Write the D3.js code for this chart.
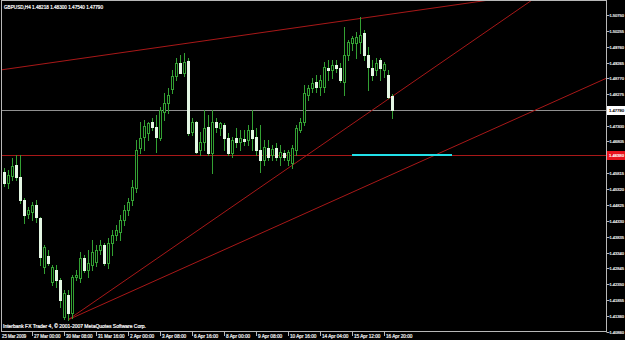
<!DOCTYPE html>
<html><head><meta charset="utf-8">
<script src="https://cdn.jsdelivr.net/npm/d3@7"></script>
<style>html,body{margin:0;padding:0;background:#000;overflow:hidden}</style>
</head><body><svg id="c" width="625" height="340"></svg>
<script>
// ---------- DATA ----------
const symbolTitle = "GBPUSD,H4";
const lastOHLC = [1.48218, 1.48300, 1.47540, 1.47790];
const copyright = "Interbank FX Trader 4, \u00A9 2001-2007 MetaQuotes Software Corp.";

const opens = [
 1.4585,1.4551,1.4573,1.4607,1.4570,1.4498,1.4454,1.4461,1.4482,1.4442,
 1.4289,1.4323,1.4242,1.4280,1.4248,1.4133,1.4202,1.4145,1.4258,1.4255,
 1.4317,1.4280,1.4295,1.4305,1.4342,1.4358,1.4301,1.4364,1.4389,1.4398,
 1.4436,1.4467,1.4498,1.4535,1.4660,1.4695,1.4707,1.4741,1.4726,1.4691,
 1.4773,1.4801,1.4844,1.4885,1.4925,1.4894,1.4932,1.4710,1.4741,1.4654,
 1.4679,1.4726,1.4645,1.4741,1.4723,1.4732,1.4691,1.4645,1.4691,1.4679,
 1.4688,1.4685,1.4716,1.4695,1.4654,1.4623,1.4660,1.4638,1.4660,1.4632,
 1.4645,1.4623,1.4613,1.4654,1.4716,1.4741,1.4826,1.4847,1.4866,1.4851,
 1.4851,1.4910,1.4904,1.4919,1.4910,1.4866,1.4950,1.4988,1.4988,1.4991,
 1.5019,1.4950,1.4910,1.4904,1.4935,1.4904,1.4888,1.48218];
const highs = [
 1.4598,1.4592,1.4629,1.4638,1.4638,1.4504,1.4476,1.4492,1.4498,1.4445,
 1.4358,1.4342,1.4295,1.4295,1.4255,1.4217,1.4217,1.4264,1.4280,1.4336,
 1.4326,1.4342,1.4373,1.4358,1.4373,1.4364,1.4379,1.4404,1.4420,1.4451,
 1.4482,1.4504,1.4560,1.4685,1.4741,1.4748,1.4741,1.4754,1.4763,1.4788,
 1.4832,1.4847,1.4904,1.4941,1.4950,1.4957,1.4941,1.4754,1.4745,1.4710,
 1.4779,1.4763,1.4779,1.4754,1.4741,1.4738,1.4707,1.4695,1.4723,1.4716,
 1.4716,1.4732,1.4779,1.4723,1.4732,1.4685,1.4685,1.4670,1.4676,1.4670,
 1.4654,1.4654,1.4670,1.4732,1.4754,1.4857,1.4857,1.4879,1.4888,1.4888,
 1.4929,1.4935,1.4935,1.4935,1.4925,1.5038,1.4997,1.5010,1.5022,1.5069,
 1.5028,1.4975,1.4935,1.4941,1.4941,1.4929,1.4904,1.48300];
const lows = [
 1.4542,1.4535,1.4560,1.4560,1.4489,1.4426,1.4442,1.4436,1.4429,1.4295,
 1.4270,1.4295,1.4233,1.4227,1.4164,1.4127,1.4124,1.4130,1.4248,1.4242,
 1.4273,1.4258,1.4280,1.4292,1.4330,1.4295,1.4286,1.4326,1.4373,1.4373,
 1.4420,1.4451,1.4482,1.4523,1.4645,1.4654,1.4685,1.4716,1.4648,1.4685,
 1.4748,1.4769,1.4832,1.4872,1.4894,1.4885,1.4701,1.4701,1.4645,1.4638,
 1.4654,1.4638,1.4582,1.4710,1.4701,1.4654,1.4638,1.4632,1.4663,1.4654,
 1.4670,1.4670,1.4654,1.4638,1.4585,1.4607,1.4623,1.4623,1.4623,1.4607,
 1.4623,1.4607,1.4598,1.4638,1.4710,1.4732,1.4810,1.4835,1.4835,1.4826,
 1.4835,1.4872,1.4879,1.4897,1.4866,1.4826,1.4935,1.4966,1.4941,1.4957,
 1.4935,1.4841,1.4872,1.4888,1.4872,1.4882,1.4816,1.47540];
const closes = [
 1.4551,1.4576,1.4604,1.4570,1.4498,1.4451,1.4467,1.4482,1.4445,1.4320,
 1.4351,1.4301,1.4289,1.4248,1.4186,1.4208,1.4145,1.4258,1.4264,1.4317,
 1.4280,1.4301,1.4336,1.4342,1.4358,1.4301,1.4364,1.4389,1.4404,1.4436,
 1.4467,1.4492,1.4539,1.4654,1.4691,1.4729,1.4738,1.4726,1.4695,1.4779,
 1.4801,1.4826,1.4885,1.4925,1.4894,1.4929,1.4707,1.4741,1.4648,1.4679,
 1.4723,1.4645,1.4741,1.4726,1.4738,1.4691,1.4645,1.4685,1.4679,1.4691,
 1.4682,1.4716,1.4691,1.4654,1.4623,1.4663,1.4632,1.4657,1.4632,1.4648,
 1.4632,1.4648,1.4660,1.4723,1.4741,1.4832,1.4847,1.4863,1.4851,1.4872,
 1.4913,1.4904,1.4919,1.4910,1.4872,1.4950,1.4991,1.5003,1.5007,1.5013,
 1.4950,1.4913,1.4888,1.4925,1.4910,1.4922,1.4819,1.47790];

const timeLabels = ["25 Mar 2009","27 Mar 00:00","30 Mar 08:00","31 Mar 16:00","2 Apr 00:00",
  "3 Apr 08:00","6 Apr 16:00","8 Apr 00:00","9 Apr 08:00","10 Apr 16:00","14 Apr 04:00",
  "15 Apr 12:00","16 Apr 20:00"];
const timeLabelBars = [0,7,15,23,31,39,47,55,63,71,79,87,95];

const priceTicks = [1.50750,1.50255,1.49760,1.49265,1.48770,1.48275,1.47300,1.46805,
  1.45815,1.45320,1.44825,1.44330,1.43835,1.43340,1.42845,1.42350,1.41855,1.41360,1.40860];
const priceDomain = [1.4086, 1.5075];

const currentPrice = 1.47790;
const hLinePrice = 1.46380;
// trend lines: [barIndex, price] anchor pairs
const trendLines = [
  {a:[0,1.4905], b:[89,1.5064], leftExtend:true},
  {a:[16,1.4124], b:[96,1.4812], leftExtend:false},
  {a:[16,1.4124], b:[96,1.4572], leftExtend:false}
];
const cyanSegment = {from:87, to:112, price:1.46380};

// ---------- DRAW ----------
const svg = d3.select("#c");
const plot = {left:2, top:1, right:606, bottom:331};
const green = "#33a033", bearFill = "#e4f7e4", redLine = "#a81818";

const x = d3.scaleLinear().domain([0, 97]).range([4, 392]);
const y = d3.scaleLinear().domain(priceDomain).range([332, 15]);

svg.append("rect").attr("width",625).attr("height",340).attr("fill","#000");

svg.append("defs").append("clipPath").attr("id","clip")
  .append("rect").attr("x",plot.left).attr("y",plot.top)
  .attr("width",plot.right-plot.left).attr("height",plot.bottom-plot.top);

const g = svg.append("g").attr("clip-path","url(#clip)");

// horizontal lines
g.append("line").attr("x1",plot.left).attr("x2",plot.right)
  .attr("y1",Math.round(y(currentPrice))+0.5).attr("y2",Math.round(y(currentPrice))+0.5)
  .attr("stroke","#909090").attr("stroke-width",1);
g.append("line").attr("x1",plot.left).attr("x2",plot.right)
  .attr("y1",Math.round(y(hLinePrice))+0.5).attr("y2",Math.round(y(hLinePrice))+0.5)
  .attr("stroke",redLine).attr("stroke-width",1);

// trend lines
const xMin = x.invert(plot.left), xMax = x.invert(plot.right);
trendLines.forEach(t => {
  const slope = (t.b[1]-t.a[1])/(t.b[0]-t.a[0]);
  const i0 = t.leftExtend ? xMin : t.a[0];
  const p0 = t.a[1] + slope*(i0-t.a[0]);
  const p1 = t.a[1] + slope*(xMax-t.a[0]);
  g.append("line").attr("x1",x(i0)).attr("y1",y(p0)).attr("x2",x(xMax)).attr("y2",y(p1))
    .attr("stroke",redLine).attr("stroke-width",1);
});

// cyan segment
g.append("line").attr("x1",x(cyanSegment.from)).attr("x2",x(cyanSegment.to))
  .attr("y1",Math.round(y(cyanSegment.price))).attr("y2",Math.round(y(cyanSegment.price)))
  .attr("stroke","#22e0e8").attr("stroke-width",2);

// candles
const bars = opens.map((o,i)=>({i,o,h:highs[i],l:lows[i],c:closes[i]}));
const cg = g.append("g").attr("shape-rendering","crispEdges");
const cand = cg.selectAll("g.c").data(bars).join("g").attr("class","c");
cand.append("line")
  .attr("x1",d=>Math.round(x(d.i))+0.5).attr("x2",d=>Math.round(x(d.i))+0.5)
  .attr("y1",d=>Math.round(y(d.h))).attr("y2",d=>Math.round(y(d.l))+1)
  .attr("stroke",green);
cand.append("rect")
  .attr("x",d=>Math.round(x(d.i))-1).attr("width",3)
  .attr("y",d=>Math.round(y(Math.max(d.o,d.c))))
  .attr("height",d=>Math.max(1,Math.round(y(Math.min(d.o,d.c)))-Math.round(y(Math.max(d.o,d.c)))+1))
  .attr("fill",d=>d.c>=d.o?green:bearFill);
cand.filter(d=>d.c>d.o).append("rect")
  .attr("x",d=>Math.round(x(d.i))).attr("width",1)
  .attr("y",d=>Math.round(y(d.c))+1)
  .attr("height",d=>Math.max(0,Math.round(y(d.o))-Math.round(y(d.c))-1))
  .attr("fill","#000");

// frame
svg.append("rect").attr("x",plot.left-0.5).attr("y",plot.top-0.5)
  .attr("width",plot.right-plot.left+1).attr("height",plot.bottom-plot.top+1)
  .attr("fill","none").attr("stroke","#b8b8b8").attr("shape-rendering","crispEdges");

const font = "'Liberation Sans', Arial, sans-serif";
function styleText(sel, size, fill){
  return sel.attr("fill",fill).attr("font-family",font).attr("font-size",size)
    .attr("stroke",fill).attr("stroke-width",0.2).attr("lengthAdjust","spacingAndGlyphs");
}

// price axis labels
const pt = svg.append("g");
priceTicks.forEach(p=>{
  const yy = Math.round(y(p));
  pt.append("line").attr("x1",plot.right+0.5).attr("x2",plot.right+3.5)
    .attr("y1",yy+0.5).attr("y2",yy+0.5).attr("stroke","#b8b8b8");
  styleText(pt.append("text").attr("x",609.5).attr("y",yy+2.2).text(p.toFixed(5)), 4.3, "#f2f2f2")
    .attr("textLength",14.5);
});
function priceBox(p, bg, fg){
  const yy = Math.round(y(p));
  pt.append("rect").attr("x",607).attr("y",yy-4).attr("width",18).attr("height",9).attr("fill",bg);
  styleText(pt.append("text").attr("x",609).attr("y",yy+2.2).text(p.toFixed(5)), 4.3, fg)
    .attr("textLength",15);
}
priceBox(currentPrice,"#ffffff","#000");
priceBox(hLinePrice,"#e8141e","#ffffff");

// time axis labels
const tg = svg.append("g");
timeLabels.forEach((t,k)=>{
  const xx = Math.round(x(timeLabelBars[k]));
  if(k>0) tg.append("line").attr("x1",xx+0.5).attr("x2",xx+0.5).attr("y1",plot.bottom).attr("y2",plot.bottom+5)
     .attr("stroke","#b8b8b8");
  styleText(tg.append("text").attr("x",k===0?2:xx+2).attr("y",338).text(t), 4.5, "#f2f2f2")
    .attr("textLength",t.length*2.2);
});

// title & copyright
const title = symbolTitle + " " + lastOHLC.map(v=>v.toFixed(5)).join(" ");
styleText(svg.append("text").attr("x",4).attr("y",9).text(title), 4.7, "#ffffff")
  .attr("textLength",99);
styleText(svg.append("text").attr("x",3).attr("y",328).text(copyright), 4.8, "#ffffff")
  .attr("textLength",143);
</script></body></html>
